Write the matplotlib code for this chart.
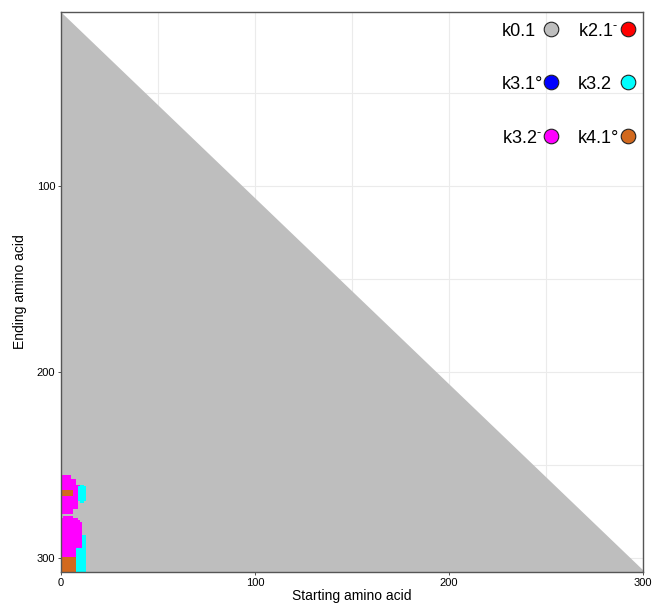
import numpy as np
import matplotlib
matplotlib.use('Agg')
import matplotlib.pyplot as plt
from matplotlib.colors import ListedColormap

# ========== data ==========
classes = ['k0.1', 'k2.1-', 'k3.1o', 'k3.2', 'k3.2-', 'k4.1o']
labels = ['k0.1', r'k2.1$^{\text{-}}$', 'k3.1\u00b0', 'k3.2',
          r'k3.2$^{\text{-}}$', 'k4.1\u00b0']
colors = ['#BEBEBE', '#FF0000', '#0000FF', '#00FFFF', '#FF00FF', '#D2691E']

n_start = 300          # start positions 0..299
end_min, end_max = 7, 307
min_len = 7            # end >= start + min_len -> k0.1

# patches of other states: class, start_lo, start_hi, end_lo, end_hi (inclusive)
reg_class = ['k3.2-', 'k3.2-', 'k3.2-', 'k3.2-', 'k3.2-', 'k4.1o', 'k3.2', 'k3.2',
             'k3.2-', 'k3.2-', 'k3.2-', 'k3.2-', 'k3.2', 'k3.2', 'k4.1o']
reg_s_lo = [0, 0, 0, 0, 0, 0, 9, 10,
            1, 0, 0, 0, 11, 8, 0]
reg_s_hi = [4, 7, 9, 8, 5, 5, 12, 11,
            5, 8, 9, 10, 12, 12, 7]
reg_e_lo = [256, 258, 261, 270, 274, 264, 262, 261,
            278, 279, 280, 281, 288, 295, 300]
reg_e_hi = [257, 260, 269, 273, 276, 266, 269, 270,
            278, 279, 280, 299, 294, 307, 307]

# ========== build matrix of the patches ==========
ends = np.arange(end_min, end_max + 1)
starts = np.arange(n_start)
grid = np.full((len(ends), len(starts)), np.nan)
S, E = np.meshgrid(starts, ends)
for c, s0, s1, e0, e1 in zip(reg_class, reg_s_lo, reg_s_hi, reg_e_lo, reg_e_hi):
    m = (S >= s0) & (S <= s1) & (E >= e0) & (E <= e1)
    grid[m] = classes.index(c)

# ========== plot ==========
plt.rcParams['font.family'] = ['Liberation Sans', 'DejaVu Sans']
plt.rcParams['mathtext.fontset'] = 'custom'
plt.rcParams['mathtext.rm'] = 'Liberation Sans'
plt.rcParams['mathtext.it'] = 'Liberation Sans'
fig = plt.figure(figsize=(6.57, 6.10), dpi=100)
ax = fig.add_axes([0.0928, 0.0623, 0.886, 0.918])

# k0.1 region: every fragment at least min_len long
x_tri = np.array([0, n_start])
ax.fill_between(x_tri, x_tri + min_len - 0.5, end_max + 0.5,
                color=colors[0], linewidth=0, zorder=2)

x_edges = np.arange(n_start + 1)
y_edges = np.arange(end_min, end_max + 2) - 0.5
ax.pcolormesh(x_edges, y_edges, np.ma.masked_invalid(grid),
              cmap=ListedColormap(colors), vmin=-0.5, vmax=len(colors) - 0.5, zorder=3)

ax.set_xlim(0, 300)
ax.set_ylim(end_max + 0.5, end_min - 0.5)
ax.set_xticks([0, 100, 200, 300])
ax.set_yticks([100, 200, 300])
ax.set_xticks([50, 150, 250], minor=True)
ax.set_yticks([50, 150, 250], minor=True)
ax.grid(which='both', color='#EBEBEB', linewidth=0.8, zorder=0)
ax.set_axisbelow(True)
ax.tick_params(which='major', length=2, width=0.6, color='#333333', labelsize=8, pad=2)
ax.tick_params(which='minor', length=0)
for sp in ax.spines.values():
    sp.set_color('#555555')
    sp.set_linewidth(1.0)
    sp.set_zorder(5)
ax.set_xlabel('Starting amino acid', fontsize=10, labelpad=1)
ax.set_ylabel('Ending amino acid', fontsize=10, labelpad=7)

# legend: two columns, text left-aligned, circle on the right
col_text_x = [0.758, 0.888]
col_mark_x = [0.842, 0.974]
row_y = [0.970, 0.875, 0.779]
for i, (lab, col) in enumerate(zip(labels, colors)):
    c, r = i % 2, i // 2
    ax.text(col_text_x[c], row_y[r] - 0.004, lab, transform=ax.transAxes, fontsize=13,
            ha='left', va='center', zorder=6)
    ax.scatter([col_mark_x[c]], [row_y[r]], transform=ax.transAxes, s=110,
               c=col, edgecolors='#222222', linewidths=0.8, zorder=6, clip_on=False)

fig.savefig('out.png', dpi=100)
